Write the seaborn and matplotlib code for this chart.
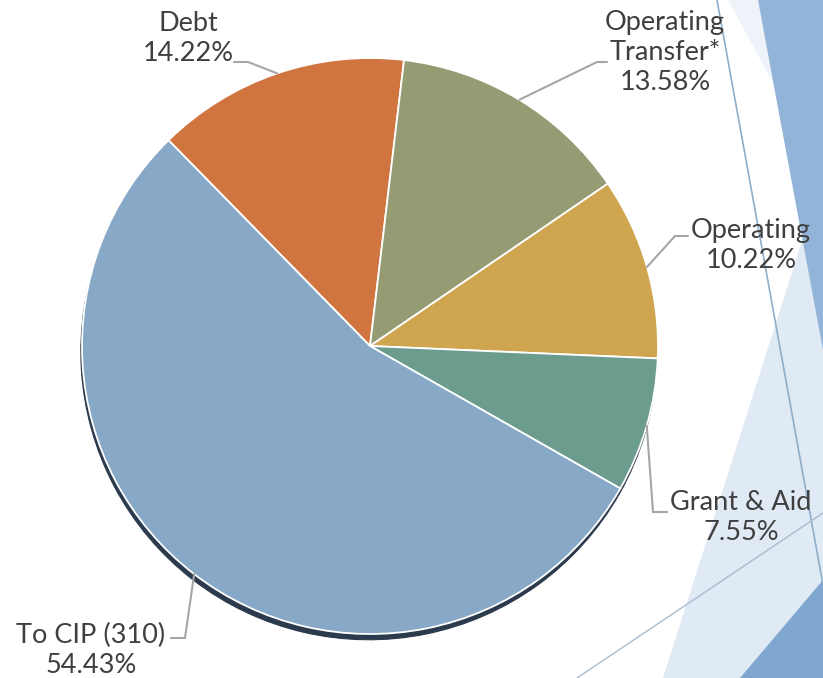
import matplotlib.pyplot as plt
import numpy as np
import seaborn as sns
from matplotlib.patches import Polygon

sns.set_theme(style="white")
plt.rcParams['font.family'] = ['Liberation Sans Narrow', 'Lato', 'DejaVu Sans']

# Data
labels = ['Debt', 'Operating\nTransfer*', 'Operating', 'Grant & Aid', 'To CIP (310)']
shares = [14.22, 13.58, 10.22, 7.55, 54.43]
colors = ['#D17540', '#959C74', '#CFA550', '#6C9C8E', '#87A8C6']

# Label layout in pixels: text centre, leader knee, leader end
text_xy = [(188, 38), (665, 52), (751, 245), (741, 518), (91, 650)]
knee_xy = [(248, 62), (597, 62), (675, 236), (653, 512), (185, 638)]
end_xy = [(234, 62), (607, 62), (688, 236), (667, 512), (171, 638)]

W, H = 823, 678
CX, CY, R = 370, 346, 288


def to_data(p):
    return (p[0] - CX) / R, (CY - p[1]) / R


fig = plt.figure(figsize=(W / 100, H / 100), dpi=100)
fig.patch.set_facecolor('white')

# slide background shapes
bg = fig.add_axes([0, 0, 1, 1])
bg.set_xlim(0, W)
bg.set_ylim(H, 0)
bg.axis('off')
shapes = [
    ([(728, 0), (758, 0), (823, 350), (823, 175)], '#EEF3F9'),
    ([(823, 175), (823, 678), (663, 678)], '#E0EAF4'),
    ([(758, 0), (823, 0), (823, 350)], '#92B4D8'),
    ([(740, 678), (823, 678), (823, 580)], '#7FA7D0'),
]
for pts, c in shapes:
    bg.add_patch(Polygon(pts, closed=True, facecolor=c, edgecolor='none'))
bg.plot([717, 823], [0, 585], color='#8EAECB', lw=1.2)
bg.plot([577, 823], [678, 513], color='#A7BCD0', lw=1.0)

# pie
ax = fig.add_axes([0, 0, 1, 1], facecolor='none')
shadow = '#2B3A4C'
ax.pie(shares, colors=[shadow] * len(shares), startangle=134.4, counterclock=False,
       radius=1, center=(-0.004, -0.02),
       wedgeprops=dict(edgecolor=shadow, linewidth=0.8))
wedges, _ = ax.pie(shares, colors=colors, startangle=134.4, counterclock=False,
                   radius=1, wedgeprops=dict(edgecolor='white', linewidth=1.3))

for w, lab, val, t, k, e in zip(wedges, labels, shares, text_xy, knee_xy, end_xy):
    mid = np.deg2rad((w.theta1 + w.theta2) / 2)
    start = (np.cos(mid), np.sin(mid))
    kx, ky = to_data(k)
    ex, ey = to_data(e)
    ax.plot([start[0], kx, ex], [start[1], ky, ey], color='#A6A6A6', lw=1.5,
            solid_joinstyle='miter')
    tx, ty = to_data(t)
    ax.text(tx, ty, f'{lab}\n{val:.2f}%', ha='center', va='center',
            fontsize=19.5, color='#3F3F3F', linespacing=1.25)

ax.set_xlim(-CX / R, (W - CX) / R)
ax.set_ylim((CY - H) / R, CY / R)
ax.axis('off')

fig.savefig('out.png', dpi=100, facecolor='white')
